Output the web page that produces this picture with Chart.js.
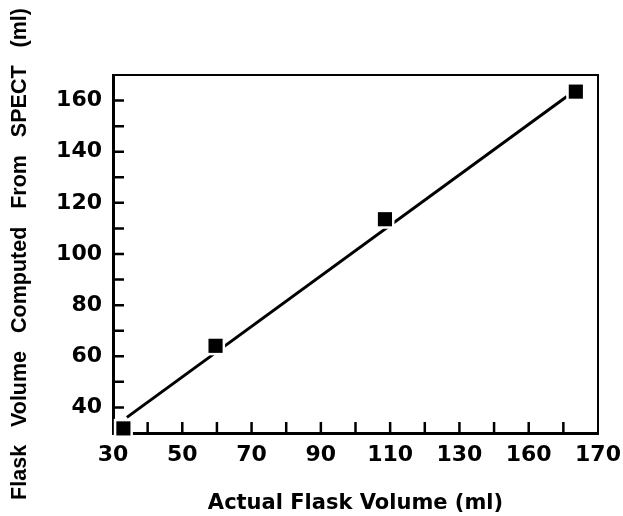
<!DOCTYPE html>
<html>
<head>
<meta charset="utf-8">
<script src="https://cdn.jsdelivr.net/npm/chart.js@4"></script>
<style>
  html, body { margin: 0; padding: 0; background: #fff; }
  #wrap { width: 623px; height: 516px; }
</style>
</head>
<body>
<div id="wrap"><canvas id="mychart" width="623" height="516"></canvas></div>
<script>
let actualVolume = [33, 59.6, 108.5, 163.6];
let spectVolume = [31.8, 64.1, 113.6, 163.5];
// fitted line, drawn between its two end values
let fitX = [34, 161];
let fitY = [36.1, 161.6];
// axis tick labels (the original figure prints 160 where 150 belongs)
let xTickValues = [30, 50, 70, 90, 110, 130, 150, 170];
let xTickLabels = ['30', '50', '70', '90', '110', '130', '160', '170'];
let yTickValues = [40, 60, 80, 100, 120, 140, 160];
let yTickLabels = ['40', '60', '80', '100', '120', '140', '160'];

let points = actualVolume.map((x, i) => ({ x: x, y: spectVolume[i] }));
let fitLine = fitX.map((x, i) => ({ x: x, y: fitY[i] }));

let tickFont = { family: 'DejaVu Sans', size: 22, weight: 'bold' };

// frame on top/right plus inward tick marks
let frameTicks = {
    id: 'frameTicks',
    afterDraw(chart) {
        let c = chart.ctx, a = chart.chartArea;
        let xs = chart.scales.x, ys = chart.scales.y;
        c.save();
        c.strokeStyle = '#000';
        c.lineWidth = 2;
        c.beginPath();
        c.moveTo(a.left, a.top);
        c.lineTo(a.right, a.top);
        c.lineTo(a.right, a.bottom);
        c.stroke();
        c.lineWidth = 2.5;
        c.beginPath();
        xs.ticks.forEach(t => {
            if (t.value <= xs.min || t.value >= xs.max) return;
            let px = xs.getPixelForValue(t.value);
            c.moveTo(px, a.bottom);
            c.lineTo(px, a.bottom - 11);
        });
        ys.ticks.forEach(t => {
            if (t.value <= ys.min || t.value >= ys.max) return;
            let py = ys.getPixelForValue(t.value);
            c.moveTo(a.left, py);
            c.lineTo(a.left + 11, py);
        });
        c.stroke();
        c.restore();
    }
};

let ctx = document.querySelector('#mychart').getContext('2d');
let myChart = new Chart(ctx, {
    type: 'scatter',
    data: {
        datasets: [{
            label: 'points',
            data: points,
            pointStyle: 'rect',
            pointRadius: 10,
            backgroundColor: '#000',
            borderWidth: 0,
            clip: false,
            order: 1
        }, {
            label: 'halo',
            data: points,
            pointStyle: 'rect',
            pointRadius: 13.5,
            backgroundColor: '#fff',
            borderWidth: 0,
            clip: false,
            order: 2
        }, {
            label: 'fit',
            data: fitLine,
            showLine: true,
            borderColor: '#000',
            borderWidth: 3,
            pointRadius: 0,
            order: 3
        }]
    },
    plugins: [frameTicks],
    options: {
        responsive: false,
        animation: false,
        layout: { padding: { top: 75, right: 25, left: 0, bottom: 0 } },
        plugins: {
            legend: { display: false },
            tooltip: { enabled: false }
        },
        scales: {
            x: {
                type: 'linear',
                min: 30,
                max: 170,
                afterFit: s => {
                    s.height = 83;
                    s.paddingLeft = 0;
                    s.paddingRight = 0;
                },
                border: { display: true, color: '#000', width: 3 },
                grid: { display: false, drawTicks: false },
                afterBuildTicks: s => {
                    s.ticks = [];
                    for (let v = 30; v <= 170; v += 10) s.ticks.push({ value: v });
                },
                ticks: {
                    autoSkip: false,
                    maxRotation: 0,
                    padding: 9,
                    color: '#000',
                    font: tickFont,
                    callback: v => {
                        let i = xTickValues.indexOf(v);
                        return i < 0 ? '' : xTickLabels[i];
                    }
                },
                title: {
                    display: true,
                    text: 'Actual Flask Volume (ml)',
                    color: '#000',
                    font: { family: 'DejaVu Sans', size: 21, weight: 'bold' },
                    padding: { top: 0, bottom: 0 }
                }
            },
            y: {
                type: 'linear',
                min: 30,
                max: 170,
                afterFit: s => {
                    s.width = 113;
                    s.paddingTop = 0;
                    s.paddingBottom = 0;
                },
                border: { display: true, color: '#000', width: 3 },
                grid: { display: false, drawTicks: false },
                afterBuildTicks: s => {
                    s.ticks = [];
                    for (let v = 30; v <= 170; v += 10) s.ticks.push({ value: v });
                },
                ticks: {
                    autoSkip: false,
                    padding: 11,
                    color: '#000',
                    font: tickFont,
                    callback: v => {
                        let i = yTickValues.indexOf(v);
                        return i < 0 ? '' : yTickLabels[i];
                    }
                },
                title: {
                    display: true,
                    text: 'Flask   Volume   Computed   From   SPECT   (ml)',
                    color: '#000',
                    font: { family: 'Liberation Sans', size: 21.5, weight: 'bold' },
                    padding: { top: 7, bottom: 0 }
                }
            }
        }
    }
});
</script>
</body>
</html>
